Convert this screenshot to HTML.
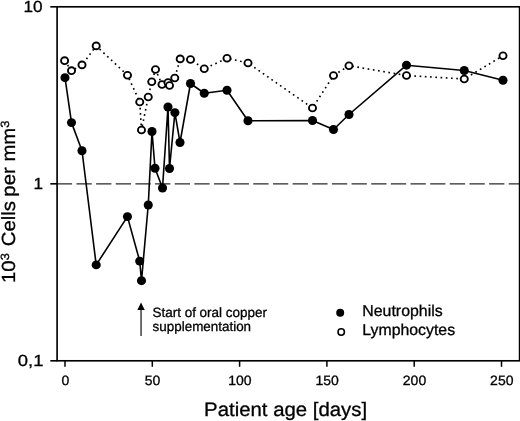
<!DOCTYPE html>
<html><head><meta charset="utf-8"><title>Chart</title>
<style>
html,body{margin:0;padding:0;background:#fff;}
body{width:520px;height:421px;overflow:hidden;position:relative;font-family:"Liberation Sans",sans-serif;}
svg{position:absolute;left:0;top:0;display:block;will-change:transform;}
text{font-family:"Liberation Sans",sans-serif;fill:#000;stroke:#000;stroke-width:0.3px;text-rendering:geometricPrecision;}
</style></head><body>
<svg width="520" height="421" viewBox="0 0 520 421">
<rect x="0" y="0" width="520" height="421" fill="#fff"/>
<line x1="56.8" y1="183.9" x2="519.6" y2="183.9" stroke="#2a2a2a" stroke-width="1.3" stroke-dasharray="15.3 4.35"/>
<polyline points="64.6,60.7 71.5,70.7 82,64.9 96.2,45.9 127.5,75.25 139.75,102 141.5,130 148.25,97 151.75,81.75 155.5,69.5 162,84.5 168,82.5 169.5,85.5 174.75,78 180.2,58.9 190.5,59.5 204.25,68.75 227,58.25 248,63 312.5,108 333.5,75.5 349,65.75 406.5,75.5 464.25,79 503,55.75" fill="none" stroke="#000" stroke-width="1.65" stroke-dasharray="1.65 3.6"/>
<polyline points="65,77.7 71.5,122.6 82,150.75 96.2,264.9 127.45,216.6 139.7,261.1 141.5,280.7 148.25,205 152,131.5 155,168.25 162.5,188 168,107 169.5,168.5 174.9,112.6 180,142.5 190.5,83.5 204.25,93.25 227,90.25 248,120.75 312.5,120.5 333.5,129.5 349,114.5 406.5,65.2 464.25,70.5 503,80.25" fill="none" stroke="#000" stroke-width="1.6" stroke-linejoin="round"/>
<ellipse cx="64.6" cy="60.7" rx="3.55" ry="3.4" fill="#fff" stroke="#000" stroke-width="1.9"/>
<ellipse cx="71.5" cy="70.7" rx="3.55" ry="3.4" fill="#fff" stroke="#000" stroke-width="1.9"/>
<ellipse cx="82" cy="64.9" rx="3.55" ry="3.4" fill="#fff" stroke="#000" stroke-width="1.9"/>
<ellipse cx="96.2" cy="45.9" rx="3.55" ry="3.4" fill="#fff" stroke="#000" stroke-width="1.9"/>
<ellipse cx="127.5" cy="75.25" rx="3.55" ry="3.4" fill="#fff" stroke="#000" stroke-width="1.9"/>
<ellipse cx="139.75" cy="102" rx="3.55" ry="3.4" fill="#fff" stroke="#000" stroke-width="1.9"/>
<ellipse cx="141.5" cy="130" rx="3.55" ry="3.4" fill="#fff" stroke="#000" stroke-width="1.9"/>
<ellipse cx="148.25" cy="97" rx="3.55" ry="3.4" fill="#fff" stroke="#000" stroke-width="1.9"/>
<ellipse cx="151.75" cy="81.75" rx="3.55" ry="3.4" fill="#fff" stroke="#000" stroke-width="1.9"/>
<ellipse cx="155.5" cy="69.5" rx="3.55" ry="3.4" fill="#fff" stroke="#000" stroke-width="1.9"/>
<ellipse cx="162" cy="84.5" rx="3.55" ry="3.4" fill="#fff" stroke="#000" stroke-width="1.9"/>
<ellipse cx="168" cy="82.5" rx="3.55" ry="3.4" fill="#fff" stroke="#000" stroke-width="1.9"/>
<ellipse cx="169.5" cy="85.5" rx="3.55" ry="3.4" fill="#fff" stroke="#000" stroke-width="1.9"/>
<ellipse cx="174.75" cy="78" rx="3.55" ry="3.4" fill="#fff" stroke="#000" stroke-width="1.9"/>
<ellipse cx="180.2" cy="58.9" rx="3.55" ry="3.4" fill="#fff" stroke="#000" stroke-width="1.9"/>
<ellipse cx="190.5" cy="59.5" rx="3.55" ry="3.4" fill="#fff" stroke="#000" stroke-width="1.9"/>
<ellipse cx="204.25" cy="68.75" rx="3.55" ry="3.4" fill="#fff" stroke="#000" stroke-width="1.9"/>
<ellipse cx="227" cy="58.25" rx="3.55" ry="3.4" fill="#fff" stroke="#000" stroke-width="1.9"/>
<ellipse cx="248" cy="63" rx="3.55" ry="3.4" fill="#fff" stroke="#000" stroke-width="1.9"/>
<ellipse cx="312.5" cy="108" rx="3.55" ry="3.4" fill="#fff" stroke="#000" stroke-width="1.9"/>
<ellipse cx="333.5" cy="75.5" rx="3.55" ry="3.4" fill="#fff" stroke="#000" stroke-width="1.9"/>
<ellipse cx="349" cy="65.75" rx="3.55" ry="3.4" fill="#fff" stroke="#000" stroke-width="1.9"/>
<ellipse cx="406.5" cy="75.5" rx="3.55" ry="3.4" fill="#fff" stroke="#000" stroke-width="1.9"/>
<ellipse cx="464.25" cy="79" rx="3.55" ry="3.4" fill="#fff" stroke="#000" stroke-width="1.9"/>
<ellipse cx="503" cy="55.75" rx="3.55" ry="3.4" fill="#fff" stroke="#000" stroke-width="1.9"/>
<ellipse cx="65" cy="77.7" rx="4.55" ry="4.45" fill="#000"/>
<ellipse cx="71.5" cy="122.6" rx="4.55" ry="4.45" fill="#000"/>
<ellipse cx="82" cy="150.75" rx="4.55" ry="4.45" fill="#000"/>
<ellipse cx="96.2" cy="264.9" rx="4.55" ry="4.45" fill="#000"/>
<ellipse cx="127.45" cy="216.6" rx="4.55" ry="4.45" fill="#000"/>
<ellipse cx="139.7" cy="261.1" rx="4.55" ry="4.45" fill="#000"/>
<ellipse cx="141.5" cy="280.7" rx="4.55" ry="4.45" fill="#000"/>
<ellipse cx="148.25" cy="205" rx="4.55" ry="4.45" fill="#000"/>
<ellipse cx="152" cy="131.5" rx="4.55" ry="4.45" fill="#000"/>
<ellipse cx="155" cy="168.25" rx="4.55" ry="4.45" fill="#000"/>
<ellipse cx="162.5" cy="188" rx="4.55" ry="4.45" fill="#000"/>
<ellipse cx="168" cy="107" rx="4.55" ry="4.45" fill="#000"/>
<ellipse cx="169.5" cy="168.5" rx="4.55" ry="4.45" fill="#000"/>
<ellipse cx="174.9" cy="112.6" rx="4.55" ry="4.45" fill="#000"/>
<ellipse cx="180" cy="142.5" rx="4.55" ry="4.45" fill="#000"/>
<ellipse cx="190.5" cy="83.5" rx="4.55" ry="4.45" fill="#000"/>
<ellipse cx="204.25" cy="93.25" rx="4.55" ry="4.45" fill="#000"/>
<ellipse cx="227" cy="90.25" rx="4.55" ry="4.45" fill="#000"/>
<ellipse cx="248" cy="120.75" rx="4.55" ry="4.45" fill="#000"/>
<ellipse cx="312.5" cy="120.5" rx="4.55" ry="4.45" fill="#000"/>
<ellipse cx="333.5" cy="129.5" rx="4.55" ry="4.45" fill="#000"/>
<ellipse cx="349" cy="114.5" rx="4.55" ry="4.45" fill="#000"/>
<ellipse cx="406.5" cy="65.2" rx="4.55" ry="4.45" fill="#000"/>
<ellipse cx="464.25" cy="70.5" rx="4.55" ry="4.45" fill="#000"/>
<ellipse cx="503" cy="80.25" rx="4.55" ry="4.45" fill="#000"/>
<rect x="57.1" y="6.8" width="462.5" height="354.0" fill="none" stroke="#000" stroke-width="1.65"/>
<line x1="50.3" y1="6.8" x2="57.1" y2="6.8" stroke="#000" stroke-width="1.65"/>
<line x1="50.3" y1="183.8" x2="57.1" y2="183.8" stroke="#000" stroke-width="1.65"/>
<line x1="50.3" y1="360.8" x2="57.1" y2="360.8" stroke="#000" stroke-width="1.65"/>
<line x1="65.00" y1="360.8" x2="65.00" y2="366.8" stroke="#000" stroke-width="1.5"/>
<text transform="translate(65.3,385.2) scale(1.037,1)" font-size="13.5" text-anchor="middle" stroke-width="0.2">0</text>
<line x1="152.30" y1="360.8" x2="152.30" y2="366.8" stroke="#000" stroke-width="1.5"/>
<text transform="translate(152.6,385.2) scale(1.037,1)" font-size="13.5" text-anchor="middle" stroke-width="0.2">50</text>
<line x1="239.60" y1="360.8" x2="239.60" y2="366.8" stroke="#000" stroke-width="1.5"/>
<text transform="translate(239.9,385.2) scale(1.037,1)" font-size="13.5" text-anchor="middle" stroke-width="0.2">100</text>
<line x1="326.90" y1="360.8" x2="326.90" y2="366.8" stroke="#000" stroke-width="1.5"/>
<text transform="translate(327.2,385.2) scale(1.037,1)" font-size="13.5" text-anchor="middle" stroke-width="0.2">150</text>
<line x1="414.20" y1="360.8" x2="414.20" y2="366.8" stroke="#000" stroke-width="1.5"/>
<text transform="translate(414.5,385.2) scale(1.037,1)" font-size="13.5" text-anchor="middle" stroke-width="0.2">200</text>
<line x1="501.50" y1="360.8" x2="501.50" y2="366.8" stroke="#000" stroke-width="1.5"/>
<text transform="translate(501.8,385.2) scale(1.037,1)" font-size="13.5" text-anchor="middle" stroke-width="0.2">250</text>
<text transform="translate(42.6,11.9) scale(1.07,1)" font-size="16" text-anchor="end" stroke-width="0.05">10</text>
<text transform="translate(43.1,189.3) scale(1.07,1)" font-size="16" text-anchor="end" stroke-width="0.05">1</text>
<text transform="translate(43.4,366.2) scale(1.15,1)" font-size="16" text-anchor="end" stroke-width="0.05">0,1</text>
<text transform="translate(204.1,416.1) scale(1.044,1)" font-size="19.5" text-anchor="start" stroke-width="0.2">Patient age [days]</text>
<text transform="translate(14.5,283) rotate(-90) scale(1.071,1)" font-size="19" stroke-width="0.2">10<tspan font-size="12" dy="-5.5">3</tspan><tspan dy="5.5" dx="1.2"> Cells</tspan><tspan dx="-1.2"> per mm</tspan><tspan font-size="12" dy="-5.5">3</tspan></text>
<line x1="141.05" y1="336" x2="141.05" y2="308" stroke="#333" stroke-width="1.4"/>
<polygon points="141.05,302.6 137.35,309.9 144.75,309.9" fill="#000"/>
<text transform="translate(152.4,316.6) scale(0.999,1)" font-size="13.5" text-anchor="start" stroke-width="0.3">Start of oral copper</text>
<text transform="translate(152.6,331.3) scale(0.994,1)" font-size="13.5" text-anchor="start" stroke-width="0.3">supplementation</text>
<circle cx="340.2" cy="312.7" r="4.0" fill="#000"/>
<circle cx="341.2" cy="332.0" r="3.2" fill="#fff" stroke="#000" stroke-width="1.55"/>
<text transform="translate(362.3,316.0) scale(1.013,1)" font-size="15.7" text-anchor="start" stroke-width="0.15">Neutrophils</text>
<text transform="translate(362.3,335.2) scale(1.01,1)" font-size="15.7" text-anchor="start" stroke-width="0.15">Lymphocytes</text>
</svg></body></html>
